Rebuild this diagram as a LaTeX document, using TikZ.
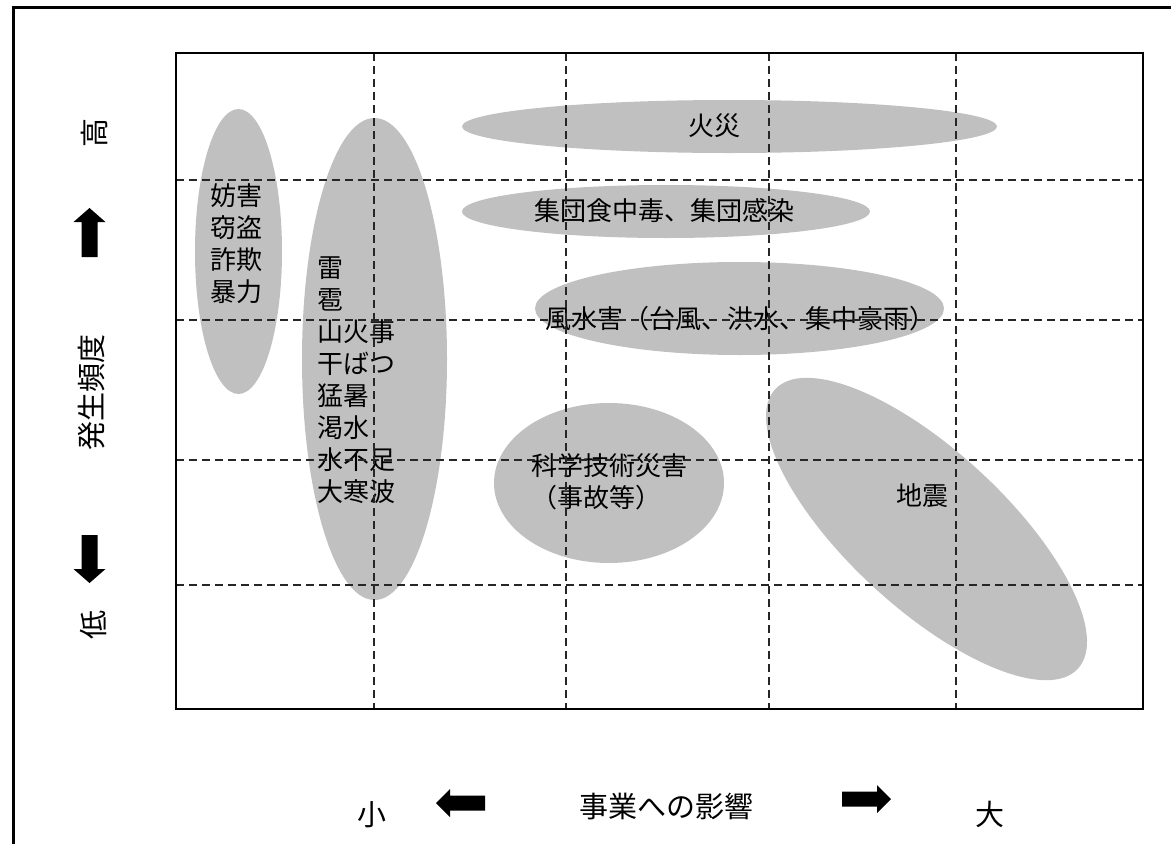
\documentclass[tikz,border=0pt]{standalone}
\usepackage{fontspec}
\newfontfamily\jp{Noto Sans CJK JP}
\usetikzlibrary{shapes.geometric}
\definecolor{blobgray}{RGB}{192,192,192}
\begin{document}
\begin{tikzpicture}[x=1pt,y=-1pt,
  blob/.style={ellipse, fill=blobgray, draw=none, inner sep=0pt, outer sep=0pt},
  lbl/.style={font=\jp\fontsize{26}{32}\selectfont, inner sep=0pt, text=black},
  axlbl/.style={font=\jp\fontsize{29}{34}\selectfont, inner sep=0pt, text=black},
  gridline/.style={draw=black!85, line width=1.4pt, dash pattern=on 8pt off 5pt},
  blockarrow/.style={fill=black, draw=none}]
\useasboundingbox (0,0) rectangle (1171,844);
\fill[white] (0,0) rectangle (1171,844);

% ellipses
\node[blob, minimum width=87, minimum height=285] (e1) at (238.5,251.5) {};
\node[blob, minimum width=145, minimum height=482] (e2) at (374.5,359) {};
\node[blob, minimum width=535, minimum height=53] (e3) at (729.5,126.5) {};
\node[blob, minimum width=408, minimum height=53] (e4) at (666,211.5) {};
\node[blob, minimum width=409, minimum height=93] (e5) at (739.5,308.5) {};
\node[blob, minimum width=230, minimum height=160] (e6) at (609,483) {};
\node[blob, minimum width=412, minimum height=157, rotate=-42.7] (e7) at (926.5,529) {};

% labels inside
\node[lbl, align=left] (t1) at (236,244) {妨害\\窃盗\\詐欺\\暴力};
\node[lbl, align=left, anchor=west] (t2) at (317,380) {雷\\雹\\山火事\\干ばつ\\猛暑\\渇水\\水不足\\大寒波};
\node[lbl] (t3) at (714,126) {火災};
\node[lbl] (t4) at (664,211) {集団食中毒、集団感染};
\node[lbl] (t5) at (740,319) {風水害（台風、洪水、集中豪雨）};
\node[lbl, align=left, anchor=west] (t6) at (531,482) {科学技術災害\\（事故等）};
\node[lbl] (t7) at (922,496) {地震};

% grid
\foreach \gx in {374,566,769,956} \draw[gridline] (\gx,53) -- (\gx,709);
\foreach \gy in {180,320,460,585} \draw[gridline] (176,\gy) -- (1143,\gy);
\draw[line width=1.6pt] (176,53) rectangle (1143,709);

% outer frame
\draw[line width=3pt] (13,844) -- (13,7.5) -- (1171,7.5);

% axis labels
\node[axlbl, rotate=90] (hi) at (94,133) {高};
\node[axlbl, rotate=90] (freq) at (92,392) {発生頻度};
\node[axlbl, rotate=90] (lo) at (94,625) {低};
\node[axlbl] (small) at (372,815) {小};
\node[axlbl] (impact) at (666,806) {事業への影響};
\node[axlbl] (big) at (990,814) {大};

% block arrows
\fill[blockarrow] (81.5,257) -- (81.5,222) -- (73.5,222) -- (89.5,208) -- (105.5,222) -- (97.5,222) -- (97.5,257) -- cycle;
\fill[blockarrow] (81.5,535) -- (97.5,535) -- (97.5,569) -- (105.5,569) -- (89.5,583) -- (73.5,569) -- (81.5,569) -- cycle;
\fill[blockarrow] (485,795.5) -- (450,795.5) -- (450,789) -- (436,803) -- (450,817) -- (450,810.5) -- (485,810.5) -- cycle;
\fill[blockarrow] (842,791.5) -- (877,791.5) -- (877,785) -- (891,799) -- (877,813) -- (877,806.5) -- (842,806.5) -- cycle;
\end{tikzpicture}
\end{document}
